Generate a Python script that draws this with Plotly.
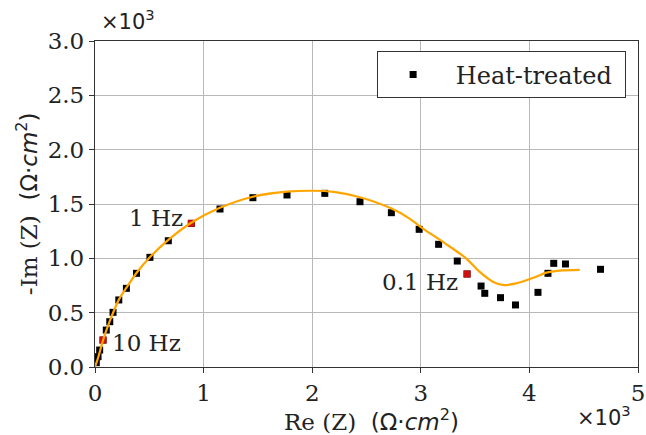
import plotly.graph_objects as go

# Measured impedance points (Ohm*cm^2)
re_z = [12, 28, 43, 74, 104, 136, 166, 219, 289, 382, 506, 675, 887, 1151, 1454, 1768,
        2116, 2440, 2729, 2985, 3164, 3336, 3426, 3555, 3589, 3734, 3872, 4079, 4171,
        4224, 4332, 4655]
im_z = [40, 95, 156, 248, 340, 417, 503, 617, 724, 862, 1009, 1162, 1322, 1454, 1558, 1583,
        1598, 1521, 1420, 1267, 1129, 975, 856, 745, 678, 638, 571, 687, 862,
        954, 948, 899]
# highlighted frequencies (10 Hz, 1 Hz, 0.1 Hz)
hl_re = [74, 887, 3426]
hl_im = [248, 1322, 856]

# Fitted curve
fit_re = [0, 30, 75, 135, 220, 290, 385, 505, 675, 890, 1150, 1454, 1768, 2000, 2200,
          2440, 2726, 2893, 3017, 3220, 3417, 3540, 3663, 3755, 3878, 4063, 4156, 4279, 4464]
fit_im = [0, 90, 250, 420, 620, 730, 870, 1010, 1170, 1330, 1465, 1567, 1613, 1622, 1612,
          1562, 1460, 1368, 1276, 1140, 1000, 877, 785, 755, 770, 831, 868, 886, 893]

labels = ["10 Hz", "1 Hz", "0.1 Hz"]
label_re = [471, 559, 2994]
label_im = [225, 1371, 782]

x_ticks = [0, 1000, 2000, 3000, 4000, 5000]
x_ticktext = ["0", "1", "2", "3", "4", "5"]
y_ticks = [0, 500, 1000, 1500, 2000, 2500, 3000]
y_ticktext = ["0.0", "0.5", "1.0", "1.5", "2.0", "2.5", "3.0"]

SERIF = "DejaVu Serif"
FS = 23

fig = go.Figure()
fig.add_trace(go.Scatter(x=re_z, y=im_z, mode="markers", name="\u00a0Heat-treated\u00a0",
                         marker=dict(symbol="square", size=7, color="black")))
fig.add_trace(go.Scatter(x=hl_re, y=hl_im, mode="markers", showlegend=False,
                         marker=dict(symbol="square", size=7, color="#cc1010")))
fig.add_trace(go.Scatter(x=fit_re, y=fit_im, mode="lines", showlegend=False,
                         line=dict(color="#FFA500", width=2.2, shape="spline", smoothing=0.8)))

for t, xv, yv in zip(labels, label_re, label_im):
    fig.add_annotation(x=xv, y=yv, xref="x", yref="y", text=t, showarrow=False,
                       font=dict(family=SERIF, size=FS, color="#222"))

axis_common = dict(showline=True, linecolor="#333", linewidth=1.3, mirror=True,
                   ticks="outside", ticklen=5, tickwidth=1.3, tickcolor="#333",
                   showgrid=True, gridcolor="#b8b8b8", gridwidth=1.2, zeroline=False,
                   automargin=False,
                   tickfont=dict(family=SERIF, size=FS, color="#222"))

fig.update_xaxes(range=[0, 5000], tickvals=x_ticks, ticktext=x_ticktext, **axis_common)
fig.update_yaxes(range=[0, 3000], tickvals=y_ticks, ticktext=y_ticktext, **axis_common)

math = "<span style='font-family:DejaVu Sans'>(Ω·<i>cm</i><sup>2</sup>)</span>"
fig.add_annotation(xref="paper", yref="paper", x=0.51, y=-0.162, xanchor="center",
                   yanchor="middle", showarrow=False,
                   text="Re (Z)  " + math, font=dict(family=SERIF, size=FS, color="#222"))
fig.add_annotation(xref="paper", yref="paper", x=-0.125, y=0.5, xanchor="center",
                   yanchor="middle", showarrow=False, textangle=-90,
                   text="-Im (Z)  " + math, font=dict(family=SERIF, size=FS, color="#222"))
fig.add_annotation(xref="paper", yref="paper", x=0.007, y=1.015, xanchor="left",
                   yanchor="bottom", showarrow=False,
                   text="<span style='font-family:DejaVu Sans'>×10<sup>3</sup></span>",
                   font=dict(size=21, color="#222"))
fig.add_annotation(xref="paper", yref="paper", x=0.884, y=-0.1, xanchor="left",
                   yanchor="top", showarrow=False,
                   text="<span style='font-family:DejaVu Sans'>×10<sup>3</sup></span>",
                   font=dict(size=21, color="#222"))

fig.update_layout(
    width=646, height=435,
    margin=dict(l=95, r=8, t=41, b=68, autoexpand=False),
    plot_bgcolor="white", paper_bgcolor="white",
    legend=dict(x=0.519, y=0.969, xanchor="left", yanchor="top",
                bordercolor="#333", borderwidth=1.3, bgcolor="white",
                font=dict(family=SERIF, size=24, color="#222"), itemwidth=60),
)

fig.write_html(
    "out.html",
    config={"displayModeBar": False},
    post_script="document.body.style.margin='0';"
                "document.documentElement.style.overflow='hidden';",
)
